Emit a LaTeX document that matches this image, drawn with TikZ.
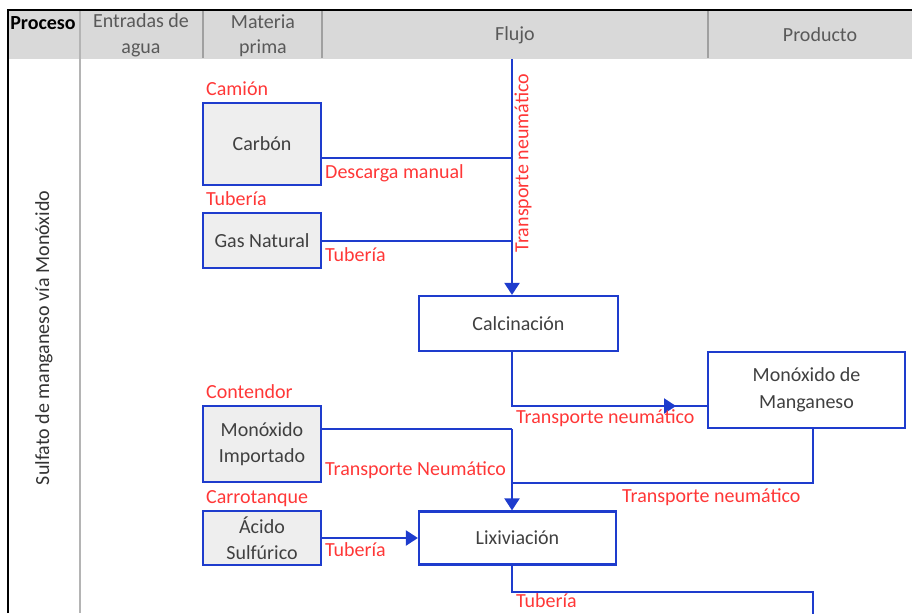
\documentclass[tikz,border=0pt]{standalone}
\usepackage{fontspec}
\setmainfont{Carlito}
\usetikzlibrary{arrows.meta}
\definecolor{flowblue}{RGB}{30,60,205}
\definecolor{lblred}{RGB}{255,55,55}
\definecolor{hdrgray}{RGB}{217,217,217}
\definecolor{hdrtext}{RGB}{89,89,89}
\definecolor{boxtext}{RGB}{64,64,64}
\definecolor{boxfill}{RGB}{238,238,238}
\definecolor{sepgray}{RGB}{160,160,160}
\definecolor{bodygray}{RGB}{180,180,180}
\begin{document}
\begin{tikzpicture}[x=1pt,y=-1pt,
  txt/.style={font=\fontsize{20}{25.5}\selectfont, inner sep=0pt, align=center},
  hdr/.style={txt, text=hdrtext},
  proc/.style={draw=flowblue, line width=2.2pt, txt, text=boxtext, fill=white},
  rawbox/.style={proc, fill=boxfill},
  lbl/.style={txt, text=lblred, anchor=west, text height=0.72em, text depth=0.22em},
  flow/.style={draw=flowblue, line width=2.2pt},
  tip/.style={-{Triangle[width=15pt,length=12pt]}}]
\useasboundingbox (0,0) rectangle (912,613);
% header
\fill[hdrgray] (8,10) rectangle (912,58);
\draw[black!15, line width=1pt] (8,58.5) -- (912,58.5);
\draw[sepgray, line width=1.6pt] (203,10) -- (203,58) (322,10) -- (322,58) (708,10) -- (708,58);
\draw[bodygray, line width=1.8pt] (80,10) -- (80,613);
\draw[black, line width=1.5pt] (8,613) -- (8,10) -- (912,10);
\node[txt] (hproc) at (43,23) {\bfseries Proceso};
\node[hdr] (hent) at (141,35.5) {Entradas de\\agua};
\node[hdr] (hmat) at (263,35.5) {Materia\\prima};
\node[hdr] (hflu) at (515,35) {Flujo};
\node[hdr] (hpro) at (820,35) {Producto};
\node[txt, text=black!80, rotate=90] (proclbl) at (44,338) {Sulfato de manganeso vía Monóxido};
% boxes
\node[rawbox, minimum width=118pt, minimum height=82pt] (carbon) at (262,144) {Carbón};
\node[rawbox, minimum width=118pt, minimum height=55pt] (gas) at (262,240.5) {Gas Natural};
\node[proc, minimum width=199pt, minimum height=55pt] (calc) at (518.5,323.5) {Calcinación};
\node[proc, minimum width=197pt, minimum height=76pt] (mnman) at (806.5,390) {Monóxido de\\[1pt]Manganeso};
\node[rawbox, minimum width=118pt, minimum height=76pt] (mnimp) at (262,444) {Monóxido\\[1pt]Importado};
\node[rawbox, minimum width=118pt, minimum height=54pt] (acido) at (262,538) {Ácido\\[1pt]Sulfúrico};
\node[proc, minimum width=197pt, minimum height=53pt] (lix) at (517.5,538) {Lixiviación};
% coordinates
\coordinate (ftop) at (512,59);
\coordinate (jc) at (512,158);
\coordinate (jg) at (512,241);
\coordinate (jm) at (512,406);
\coordinate (amid) at (676,406);
\coordinate (ji) at (512,429);
\coordinate (mb) at (813,483);
\coordinate (jb) at (512,483);
\coordinate (lb1) at (512,592);
\coordinate (lb2) at (813,592);
\coordinate (lbend) at (813,614);
% connectors
\draw[flow, tip] (ftop) -- (ftop |- calc.north);
\draw[flow] (carbon.east |- jc) -- (jc);
\draw[flow] (gas.east |- jg) -- (jg);
\draw[flow] (jm |- calc.south) -- (jm) -- (mnman.west |- jm);
\draw[flow, tip] (jm) -- (amid);
\draw[flow] (mnimp.east |- ji) -- (ji);
\draw[flow, tip] (ji) -- (ji |- lix.north);
\draw[flow] (mb |- mnman.south) -- (mb) -- (jb);
\draw[flow, tip] (acido.east) -- (lix.west);
\draw[flow] (lb1 |- lix.south) -- (lb1) -- (lb2) -- (lbend);
% labels
\node[lbl] (lcam) at (206,93) {Camión};
\node[lbl] (ltub1) at (206,203) {Tubería};
\node[lbl] (ldes) at (325,176) {Descarga manual};
\node[lbl] (ltub2) at (325,259) {Tubería};
\node[txt, text=lblred, rotate=90] (lvert) at (523,163) {Transporte neumático};
\node[lbl] (lcon) at (206,396) {Contendor};
\node[lbl] (ltn1) at (516,421) {Transporte neumático};
\node[lbl] (ltn2) at (325,472.5) {Transporte Neumático};
\node[lbl] (lcar) at (206,500.5) {Carrotanque};
\node[lbl] (ltn3) at (622,500) {Transporte neumático};
\node[lbl] (ltub3) at (325,554) {Tubería};
\node[lbl] (ltub4) at (516,604.5) {Tubería};
\end{tikzpicture}
\end{document}
